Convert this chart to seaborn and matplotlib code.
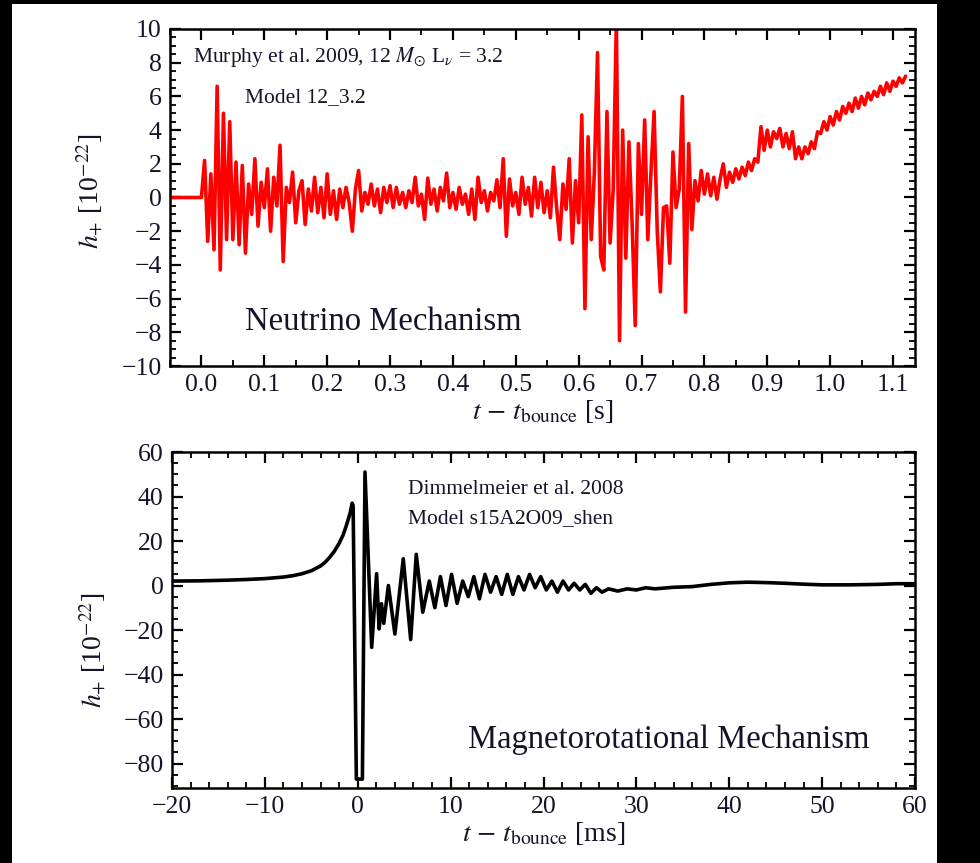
import numpy as np
import pandas as pd
import matplotlib
matplotlib.use("Agg")
import matplotlib.pyplot as plt
from matplotlib.patches import Rectangle
from matplotlib.ticker import MultipleLocator, FormatStrFormatter
import seaborn as sns

# ---------------- data ----------------
# Top panel: Murphy et al. 2009 neutrino mechanism, h+ [1e-22] vs t - t_bounce [s]
neutrino_t0 = -0.05          # start of pre-bounce flat part
neutrino_dt = 0.005          # sampling step after bounce [s]
neutrino_pre_h = [0.0, 0.0]  # at t = -0.05 and t = 0.0
neutrino_h = [
    2.2, -2.6, 1.4, -3.1, 6.6, -4.3, 5.0, -2.5, 4.5, -2.5,
    2.1, -2.8, 1.9, -3.3, 0.8, -1.0, 2.3, -1.7, 0.9, -0.6,
    1.7, -2.0, 1.2, -0.5, 3.1, -3.8, 0.6, -0.3, 1.5, -1.5,
    0.4, 1.0, -1.6, 0.5, -0.8, 1.2, -0.9, 0.6, -1.2, 1.4,
    -1.0, 0.4, -1.3, 0.5, -0.6, 0.6, -0.3, -2.0, 0.5, 1.6,
    -0.8, 0.3, -0.4, 0.8, -0.5, 0.5, -0.9, 0.6, -0.3, 0.7,
    -0.6, 0.6, -0.4, 0.3, -0.6, 0.4, -0.3, 1.2, -0.5, 0.2,
    -1.3, 1.15, -0.4, 0.5, -0.8, 0.6, -0.2, 1.45, -0.6, 0.3,
    -0.7, 0.6, -0.4, 0.2, -1.0, 0.5, -1.3, 1.2, -0.3, 0.4,
    -0.8, 0.3, -0.2, 1.05, -0.6, 2.3, -2.3, 1.1, -0.5, 0.3,
    -1.0, 1.2, -0.4, 0.6, -1.1, 1.2, -0.6, 0.9, -0.9, 0.4,
    -1.2, 1.8, -0.6, -2.5, 0.8, -0.7, 2.3, -2.7, 1.0, -1.5,
    4.9, -6.6, 3.6, -2.5, 1.5, 8.6, -3.5, -4.3, 5.1, -2.7,
    0.5, 10.5, -8.5, 4.0, -3.6, 3.3, -1.5, -7.6, 3.2, -1.0,
    4.6, -2.5, 1.5, 5.1, -2.0, -5.6, -0.6, -0.5, -3.9, 2.7,
    -0.6, 0.5, 6.0, -6.8, 3.2, -1.9, 1.0, -0.2, 1.6, 0.2,
    1.4, 0.1, 1.2, -0.1, 1.1, 2.0, 0.6, 1.5, 0.9, 1.7,
    1.1, 1.8, 1.3, 2.1, 1.6, 2.3, 2.1, 4.2, 2.8, 4.0,
    3.0, 3.9, 3.5, 4.1, 3.0, 3.8, 2.9, 3.9, 2.3, 3.0,
    2.3, 3.0, 2.6, 3.3, 2.9, 3.9, 3.8, 4.5, 4.0, 4.8,
    4.3, 5.1, 4.6, 5.4, 5.0, 5.6, 5.1, 5.9, 5.3, 6.0,
    5.5, 6.2, 5.8, 6.3, 6.0, 6.6, 6.1, 6.8, 6.3, 6.9,
    6.6, 7.1, 6.8, 7.2,
]

# Bottom panel: Dimmelmeier et al. 2008 magnetorotational, h+ [1e-22] vs t - t_bounce [ms]
mr_t = [
    -20, -17, -14, -12, -10, -8, -7, -6, -5, -4,
    -3.5, -3, -2.5, -2, -1.6, -1.3, -1.0, -0.8, -0.6, -0.5,
    -0.15, 0.5, 0.78, 1.5, 2.03, 2.3, 2.55, 2.8, 3.3, 4.0,
    4.9, 5.7, 6.3, 7.0, 7.7, 8.3, 8.9, 9.5, 10.1, 10.7,
    11.3, 11.9, 12.5, 13.1, 13.7, 14.3, 14.9, 15.5, 16.1, 16.7,
    17.3, 17.9, 18.5, 19.1, 19.7, 20.3, 20.9, 21.5, 22.1, 22.7,
    23.3, 23.9, 24.5, 25.1, 25.7, 26.3, 27, 28, 29, 30,
    31, 32, 34, 36, 38, 40, 42, 44, 46, 48,
    50, 53, 56, 58, 60,
]
mr_h = [
    2.0, 2.1, 2.4, 2.7, 3.1, 3.8, 4.4, 5.3, 6.6, 8.8,
    10.5, 12.8, 15.5, 19.0, 22.5, 26.0, 30.0, 33.0, 37.0, 36.0,
    -87.0, -87.0, 51.0, -27.8, 5.3, -19.5, -8.2, -17.0, 0.0, -21.8,
    12.0, -24.3, 14.0, -12.0, 2.0, -10.0, 4.0, -9.0, 5.0, -8.0,
    2.0, -5.0, 4.0, -6.0, 5.0, -3.0, 4.0, -4.0, 5.0, -4.0,
    4.0, -2.0, 5.0, -1.0, 4.0, -2.0, 2.0, -3.0, 2.0, -2.0,
    1.0, -2.0, 0.5, -3.5, -1.0, -3.0, -1.5, -2.5, -1.5, -2.0,
    -1.0, -1.5, -0.8, -0.5, 0.5, 1.2, 1.5, 1.3, 1.0, 0.6,
    0.3, 0.3, 0.5, 0.8, 0.8,
]

# text
top_note1 = r"Murphy et al. 2009, 12 $M_{\odot}$ L$_{\nu}$ = 3.2"
top_note2 = "Model 12_3.2"
top_title = "Neutrino Mechanism"
bot_note1 = "Dimmelmeier et al. 2008"
bot_note2 = "Model s15A2O09_shen"
bot_title = "Magnetorotational Mechanism"
ylabel = r"$h_{+}$ [10$^{-22}$]"
xlabel_top = r"$t$ $-$ $t_{\rm bounce}$ [s]"
xlabel_bot = r"$t$ $-$ $t_{\rm bounce}$ [ms]"

# ---------------- build frames ----------------
n_post = len(neutrino_h)
t_post = 0.0 + neutrino_dt * np.arange(1, n_post + 1)
top_df = pd.DataFrame({
    "t": np.concatenate([[neutrino_t0, 0.0], t_post]),
    "h": np.concatenate([neutrino_pre_h, neutrino_h]),
})
bot_df = pd.DataFrame({"t": mr_t, "h": mr_h})

# ---------------- style ----------------
sns.set_theme(style="ticks")
plt.rcParams["font.family"] = ["Liberation Serif", "DejaVu Serif"]
plt.rcParams["mathtext.fontset"] = "stix"
plt.rcParams["axes.unicode_minus"] = True
TXT = "#141428"

fig = plt.figure(figsize=(9.8, 8.63), dpi=100, facecolor="black")
fig.patches.append(Rectangle((12 / 980, 0), (937 - 12) / 980, 1 - 4 / 863,
                             transform=fig.transFigure, facecolor="white",
                             edgecolor="none", zorder=-10))

ax1 = fig.add_axes([170 / 980, 1 - 366 / 863, (915 - 170) / 980, (366 - 29) / 863])
ax2 = fig.add_axes([172 / 980, 1 - 788 / 863, (915 - 172) / 980, (788 - 452) / 863])

sns.lineplot(data=top_df, x="t", y="h", ax=ax1, color="#ff0000", lw=2.6,
             estimator=None, sort=False)
sns.lineplot(data=bot_df, x="t", y="h", ax=ax2, color="black", lw=2.6,
             estimator=None, sort=False)

ax1.set_xlim(-0.05, 1.135)
ax1.set_ylim(-10, 10)
ax2.set_xlim(-20, 60)
ax2.set_ylim(-91, 60)

ax1.xaxis.set_major_locator(MultipleLocator(0.1))
ax1.xaxis.set_minor_locator(MultipleLocator(0.05))
ax1.xaxis.set_major_formatter(FormatStrFormatter("%.1f"))
ax1.yaxis.set_major_locator(MultipleLocator(2))
ax1.yaxis.set_minor_locator(MultipleLocator(0.5))
ax2.xaxis.set_major_locator(MultipleLocator(10))
ax2.xaxis.set_minor_locator(MultipleLocator(2))
ax2.yaxis.set_major_locator(MultipleLocator(20))
ax2.yaxis.set_minor_locator(MultipleLocator(5))

for ax in (ax1, ax2):
    ax.set_facecolor("white")
    for s in ax.spines.values():
        s.set_linewidth(1.8)
        s.set_color("black")
    ax.tick_params(which="both", direction="in", top=True, right=True,
                   colors="black", labelcolor=TXT)
    ax.tick_params(which="major", length=8, width=1.6, labelsize=18.5, pad=6)
    ax.tick_params(which="minor", length=4.5, width=1.3)
    ax.set_ylabel(ylabel, fontsize=20, color=TXT)

ax1.yaxis.set_label_coords(-0.088, 0.52)
ax2.yaxis.set_label_coords(-0.088, 0.41)

ax1.set_xlabel(xlabel_top, fontsize=20, color=TXT, labelpad=1)
ax2.set_xlabel(xlabel_bot, fontsize=20, color=TXT, labelpad=1)

ax1.text(0.031, 0.917, top_note1, transform=ax1.transAxes, fontsize=15.5,
         color=TXT, va="center", ha="left")
ax1.text(0.100, 0.795, top_note2, transform=ax1.transAxes, fontsize=15.5,
         color=TXT, va="center", ha="left")
ax1.text(0.100, 0.130, top_title, transform=ax1.transAxes, fontsize=23.5,
         color=TXT, va="center", ha="left")
ax2.text(0.318, 0.887, bot_note1, transform=ax2.transAxes, fontsize=15.5,
         color=TXT, va="center", ha="left")
ax2.text(0.318, 0.801, bot_note2, transform=ax2.transAxes, fontsize=15.5,
         color=TXT, va="center", ha="left")
ax2.text(0.398, 0.143, bot_title, transform=ax2.transAxes, fontsize=23.5,
         color=TXT, va="center", ha="left")

fig.savefig("out.png", dpi=100, facecolor=fig.get_facecolor())
